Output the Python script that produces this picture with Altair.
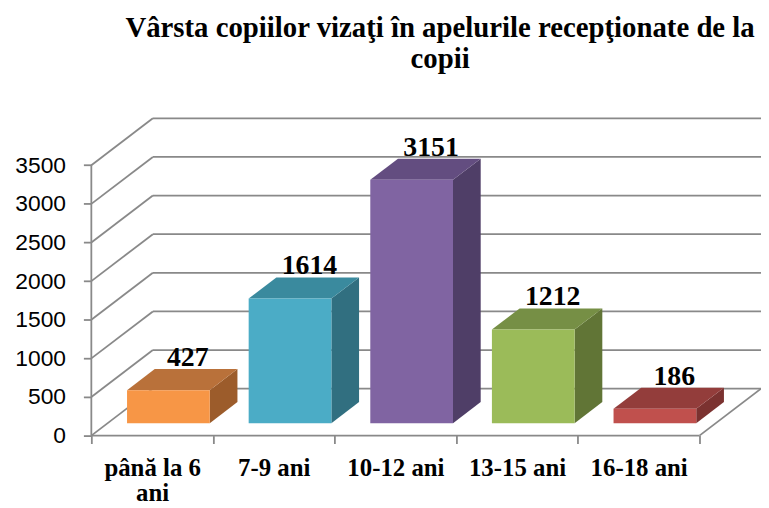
import json
import altair as alt
import pandas as pd

# ---------------- data ----------------
CATEGORIES = ["până la 6 ani", "7-9 ani", "10-12 ani", "13-15 ani", "16-18 ani"]
LABEL_LINES = [["până la 6", "ani"], ["7-9 ani"], ["10-12 ani"], ["13-15 ani"], ["16-18 ani"]]
VALUES = [427, 1614, 3151, 1212, 186]
FRONT_COLORS = ["#F79646", "#4BACC6", "#8064A2", "#9BBB59", "#C0504D"]
TOP_COLORS = ["#B9713A", "#3A8A9E", "#634D80", "#768F45", "#933D3B"]
SIDE_COLORS = ["#9C5C2B", "#316F80", "#4F3E67", "#617536", "#7B3230"]
Y_TICKS = [0, 500, 1000, 1500, 2000, 2500, 3000, 3500]
TITLE = ["Vârsta copiilor vizaţi în apelurile recepţionate de la", "copii"]

# ---------------- 3-D styling parameters ----------------
DEPTH_X = 0.506      # floor depth, in category-band units
DEPTH_Y = 607.5      # floor depth, in value units
F0, F1 = 0.264, 0.714  # bar front / back position inside the floor depth
BAR_W = 0.68
N = len(CATEGORIES)
X_MAX = N + DEPTH_X
Y_MAX = 4110
W, H = 675, 320
GRID = "#898989"

xs = alt.Scale(domain=[0, X_MAX], nice=False, zero=False)
ys = alt.Scale(domain=[0, Y_MAX], nice=False, zero=False)

# ---------------- wall / floor lines ----------------
rules = []
for v in Y_TICKS:
    rules.append(dict(x=DEPTH_X, x2=N + DEPTH_X, y=v + DEPTH_Y, y2=v + DEPTH_Y))  # back wall
    rules.append(dict(x=0, x2=DEPTH_X, y=v, y2=v + DEPTH_Y))                      # side wall
rules.append(dict(x=0, x2=N, y=0, y2=0))                                          # floor front
rules.append(dict(x=N, x2=N + DEPTH_X, y=0, y2=DEPTH_Y))                          # floor right
rules.append(dict(x=0, x2=0, y=0, y2=Y_TICKS[-1]))                                # value axis line
rules_df = pd.DataFrame(rules)

# ---------------- bar faces ----------------
sdx = (F1 - F0) * DEPTH_X
sdy = (F1 - F0) * DEPTH_Y
front, poly, labels = [], [], []
for i, (cat, v) in enumerate(zip(CATEGORIES, VALUES)):
    x0 = i + (1 - BAR_W) / 2 + F0 * DEPTH_X
    x1 = x0 + BAR_W
    yb = F0 * DEPTH_Y
    yt = v + yb
    front.append(dict(cat=cat, x=x0, x2=x1, y=yb, y2=yt, color=FRONT_COLORS[i]))
    k = f"{i}-side"
    poly += [
        dict(key=k, x=x1, y=yt, y2=yb, color=SIDE_COLORS[i]),
        dict(key=k, x=x1 + sdx, y=yt + sdy, y2=yb + sdy, color=SIDE_COLORS[i]),
    ]
    k = f"{i}-top"
    poly += [
        dict(key=k, x=x0, y=yt, y2=yt, color=TOP_COLORS[i]),
        dict(key=k, x=x0 + sdx, y=yt + sdy, y2=yt, color=TOP_COLORS[i]),
        dict(key=k, x=x1, y=yt + sdy, y2=yt, color=TOP_COLORS[i]),
        dict(key=k, x=x1 + sdx, y=yt + sdy, y2=yt + sdy, color=TOP_COLORS[i]),
    ]
    labels.append(dict(x=x0 + BAR_W / 2 + sdx * 0.7, y=yt + sdy, text=str(v)))
front_df = pd.DataFrame(front)
poly_df = pd.DataFrame(poly)
labels_df = pd.DataFrame(labels)

lbl_expr = ("datum.value % 1 == 0 ? '' : "
            + json.dumps(LABEL_LINES, ensure_ascii=False)
            + "[floor(datum.value)]")

x_axis = alt.Axis(
    values=[k / 2 for k in range(0, 2 * N + 1)],
    labelExpr=lbl_expr,
    labelFont="Liberation Serif", labelFontWeight="bold", labelFontSize=25,
    labelColor="black", labelLineHeight=25, labelPadding=12,
    labelOverlap=False, labelFlush=False, labelBound=False,
    tickSize=8, tickColor=GRID, tickWidth=1.8,
    tickOpacity={"condition": {"test": "datum.value % 1 != 0", "value": 0}, "value": 1},
    domain=False, grid=False, title=None,
)
y_axis = alt.Axis(
    values=Y_TICKS, format="d", labelFont="Liberation Sans", labelFontSize=23,
    labelColor="black", labelPadding=18, tickSize=8, tickColor=GRID, tickWidth=1.8,
    domain=False, grid=False, title=None,
)


def X(field="x"):
    return alt.X(f"{field}:Q", scale=xs, axis=x_axis)


def Y(field="y", **kw):
    return alt.Y(f"{field}:Q", scale=ys, axis=y_axis, **kw)


grid_layer = alt.Chart(rules_df).mark_rule(color=GRID, strokeWidth=1.8).encode(
    x=X(), x2="x2:Q", y=Y(), y2="y2:Q",
)

faces = alt.Chart(poly_df).mark_area(opacity=1, interpolate="linear").encode(
    x=X(), y=Y(stack=None), y2="y2:Q",
    color=alt.Color("color:N", scale=None),
    detail="key:N",
)

fronts = alt.Chart(front_df).mark_rect().encode(
    x=X(), x2="x2:Q", y=Y(), y2="y2:Q",
    color=alt.Color("color:N", scale=None),
)

texts = alt.Chart(labels_df).mark_text(
    font="Liberation Serif", fontWeight="bold", fontSize=28, color="black",
    baseline="alphabetic", dy=-3,
).encode(
    x=X(), y=Y(), text="text:N",
)

chart = alt.layer(grid_layer, faces, fronts, texts).properties(
    width=W, height=H,
    autosize=alt.AutoSizeParams(type="none"),
    padding={"left": 84, "top": 109, "right": 0, "bottom": 72},
    title=alt.TitleParams(
        text=TITLE, font="Liberation Serif", fontWeight="bold", fontSize=29,
        color="black", anchor="middle", dx=14, offset=44, lineHeight=31,
    ),
).configure_view(stroke=None)

chart.save("out.html", embed_options={"renderer": "svg", "actions": False})
